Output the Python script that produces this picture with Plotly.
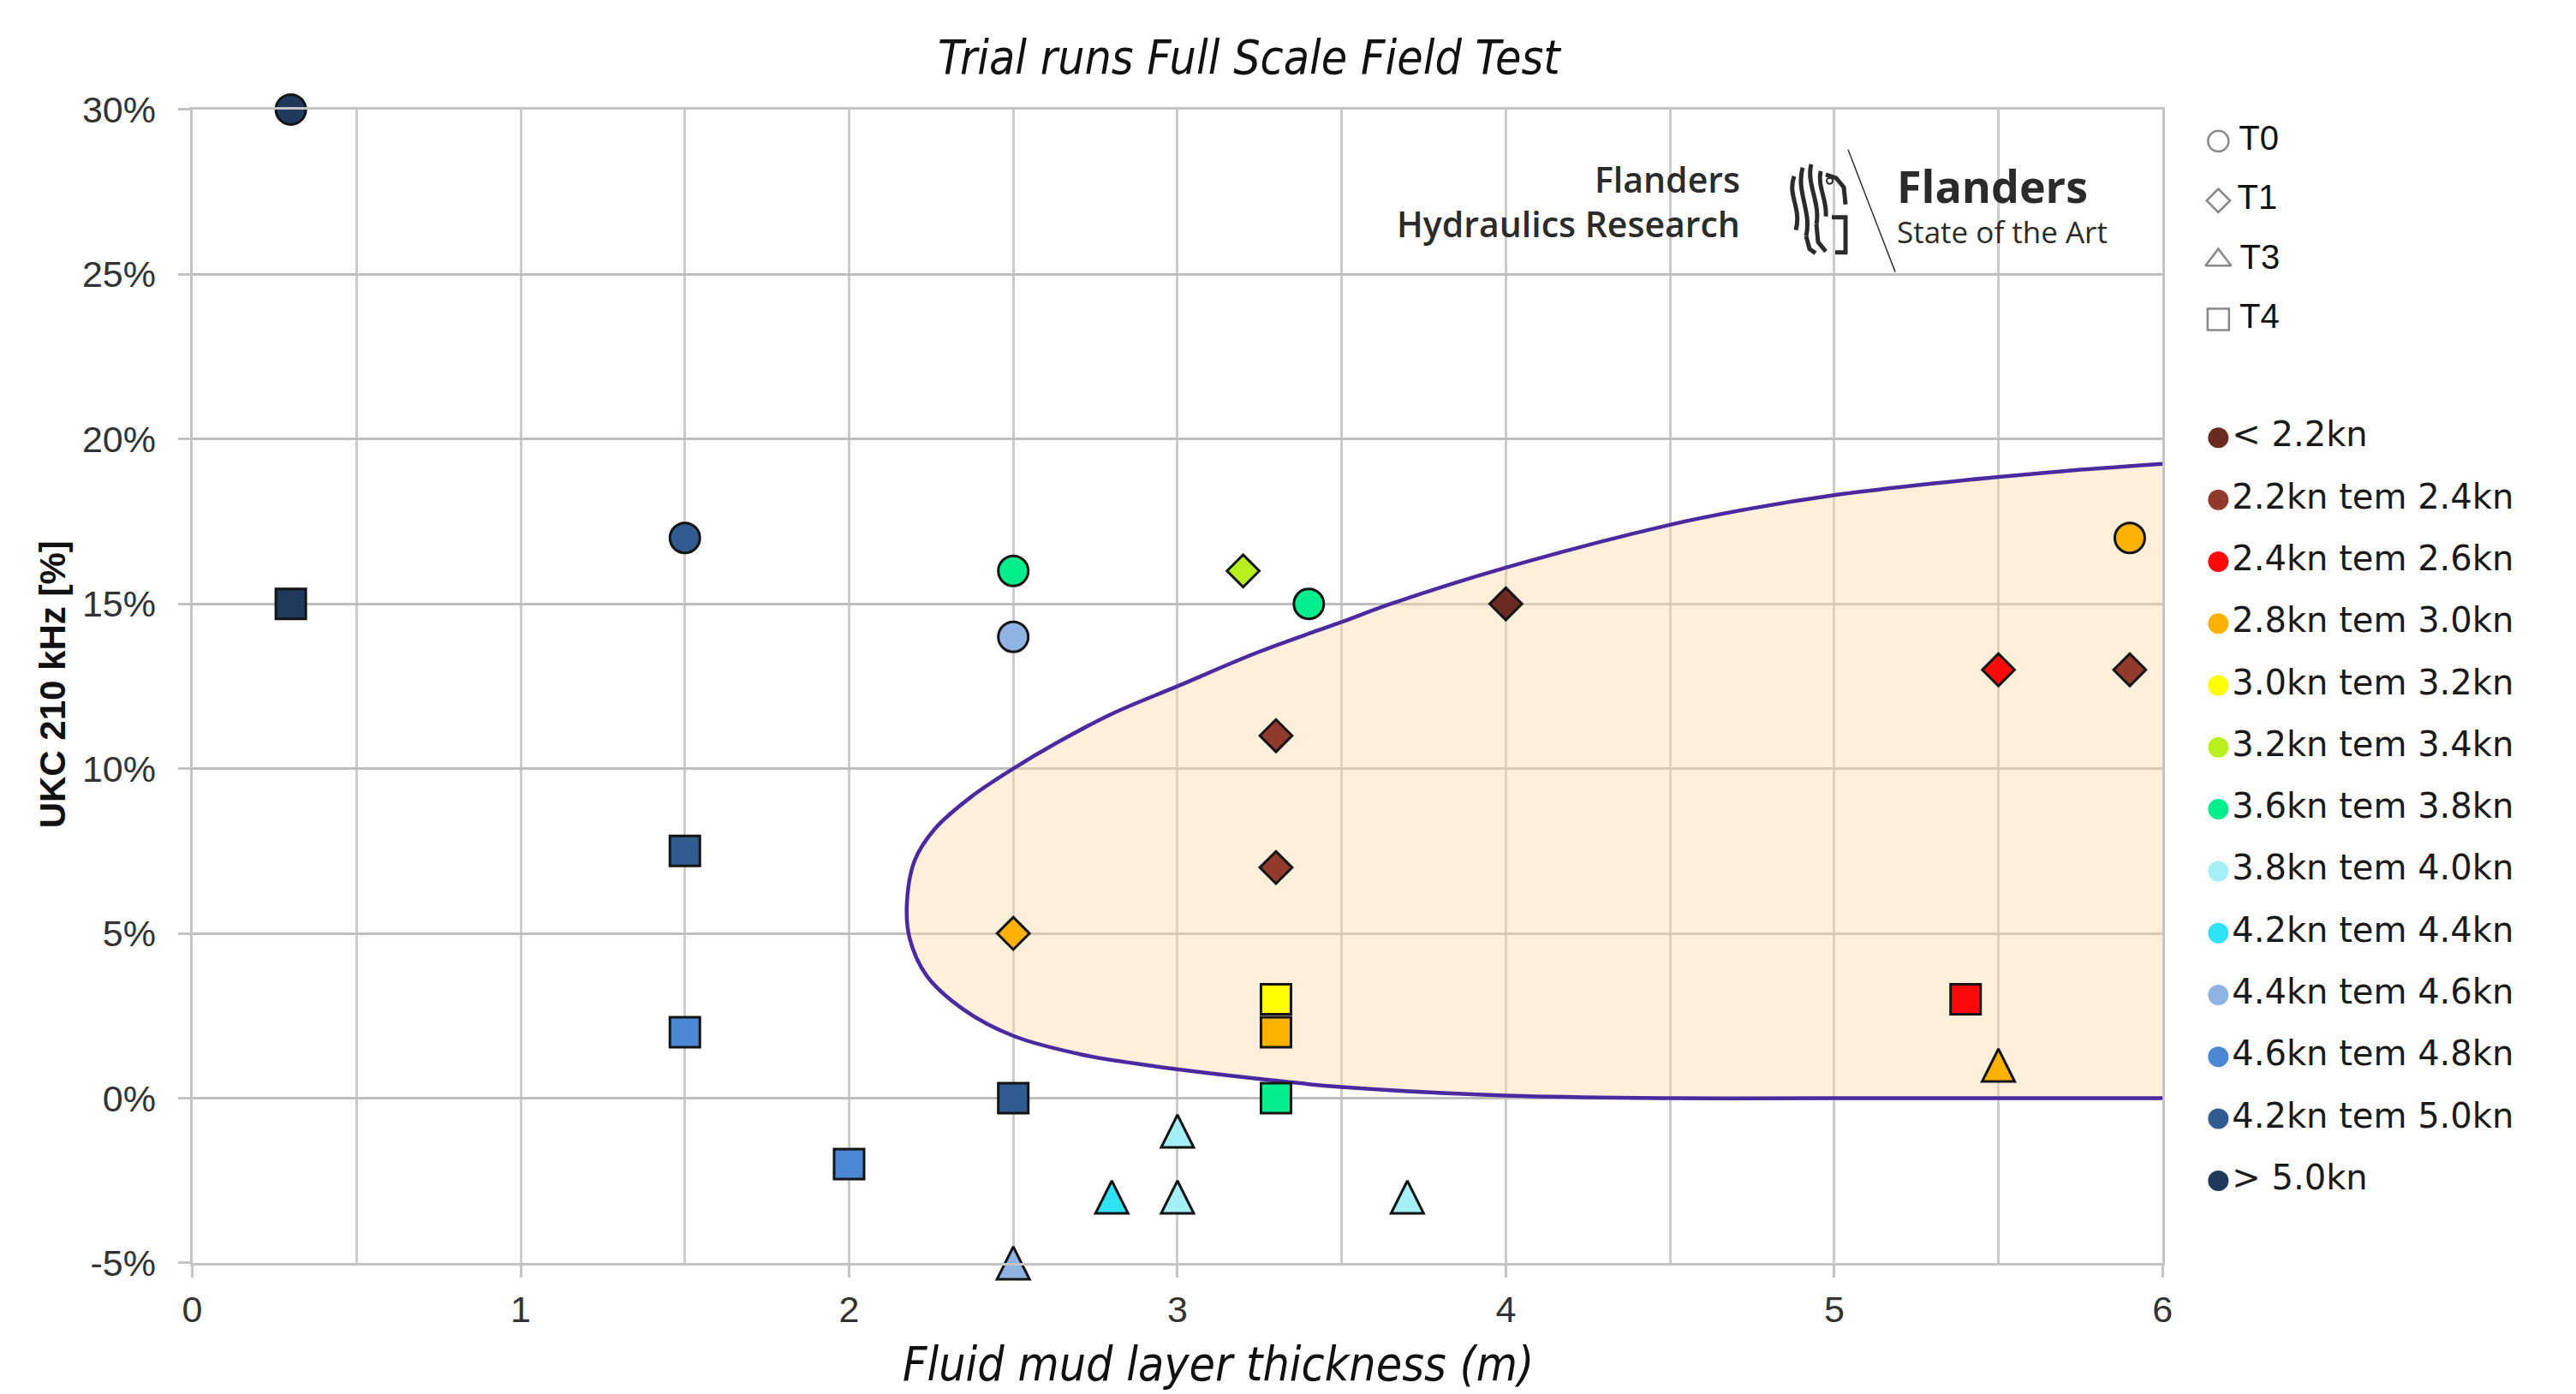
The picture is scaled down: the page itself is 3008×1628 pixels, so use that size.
import plotly.graph_objects as go

W, H = 3008, 1628

# ---------------- data ----------------
thickness = [0.3, 1.5, 2.5, 2.5, 3.4, 5.9,
             3.2, 4.0, 3.3, 3.3, 2.5, 5.5, 5.9,
             3.0, 2.8, 3.0, 3.7, 2.5, 5.5,
             0.3, 1.5, 1.5, 2.0, 2.5, 3.3, 3.3, 3.3, 5.4]
ukc = [30, 17, 16, 14, 15, 17,
       16, 15, 11, 7, 5, 13, 13,
       -1, -3, -3, -3, -5, 1,
       15, 7.5, 2, -2, 0, 3, 2, 0, 3]
test = ["T0", "T0", "T0", "T0", "T0", "T0",
        "T1", "T1", "T1", "T1", "T1", "T1", "T1",
        "T3", "T3", "T3", "T3", "T3", "T3",
        "T4", "T4", "T4", "T4", "T4", "T4", "T4", "T4", "T4"]
speed_class = [12, 11, 6, 9, 6, 3,
               5, 0, 1, 1, 3, 2, 1,
               7, 8, 7, 7, 9, 3,
               12, 11, 10, 10, 11, 4, 3, 6, 2]

test_labels = ["T0", "T1", "T3", "T4"]
speed_labels = ["< 2.2kn", "2.2kn tem 2.4kn", "2.4kn tem 2.6kn", "2.8kn tem 3.0kn",
                "3.0kn tem 3.2kn", "3.2kn tem 3.4kn", "3.6kn tem 3.8kn", "3.8kn tem 4.0kn",
                "4.2kn tem 4.4kn", "4.4kn tem 4.6kn", "4.6kn tem 4.8kn", "4.2kn tem 5.0kn",
                "> 5.0kn"]
speed_colors = ["#6B2A22", "#923A2C", "#FF0A0A", "#FFB300", "#FFFF00", "#B8F01E",
                "#00EE8C", "#A5F0F7", "#30E2F5", "#8FB4E3", "#4A88D6", "#315C91", "#1F3A5C"]

# envelope of the favourable zone
envelope_x = [6.0, 5.75, 5.5, 5.25, 5.0, 4.75, 4.5, 4.0, 3.65, 3.5, 3.25, 3.0, 2.8, 2.63, 2.5, 2.37, 2.26,
              2.2, 2.176, 2.184, 2.236, 2.35, 2.5, 2.71, 2.93, 3.33, 3.5, 4.0, 4.5, 5.0, 6.0]
envelope_y = [19.25, 19.07, 18.85, 18.6, 18.3, 17.9, 17.4, 16.1, 15.0, 14.45, 13.55, 12.5, 11.66, 10.77, 10.0, 9.13, 8.16,
              7.22, 5.91, 4.87, 3.72, 2.68, 1.89, 1.32, 0.97, 0.5, 0.34, 0.08, 0.0, 0.0, 0.0]

x_ticks = [0, 1, 2, 3, 4, 5, 6]
y_ticks = [-5, 0, 5, 10, 15, 20, 25, 30]
y_tick_labels = ["-5%", "0%", "5%", "10%", "15%", "20%", "25%", "30%"]


# ---------------- layout calibration (reference pixel -> figure pixel) ----------------
def px(v):
    return v * 1.0088 - 18.75


def py(v):
    return v * 1.0289 - 29.8


# ---------------- styles ----------------
sym_style = {
    "T0": dict(symbol="circle", size=35, angle=0, standoff=0),
    "T1": dict(symbol="diamond", size=29, angle=0, standoff=0),
    "T3": dict(symbol="arrow-down", size=38, angle=180, standoff=19),
    "T4": dict(symbol="square", size=35, angle=0, standoff=0),
}
legend_sym = {"T0": "circle-open", "T1": "diamond-open", "T3": "triangle-up-open", "T4": "square-open"}
legend_sym_size = {"T0": 24, "T1": 21, "T3": 26, "T4": 25}

fig = go.Figure()

# envelope fill + outline
fig.add_trace(go.Scatter(x=envelope_x, y=envelope_y, mode="lines", fill="toself",
                         fillcolor="rgba(250,218,165,0.42)", line=dict(width=0, shape="spline", smoothing=1.0),
                         hoverinfo="skip", showlegend=False))
fig.add_trace(go.Scatter(x=envelope_x, y=envelope_y, mode="lines",
                         line=dict(color="#4B2AA0", width=4.5, shape="spline", smoothing=1.0),
                         hoverinfo="skip", showlegend=False))

# data points, one trace per test type
for t in test_labels:
    idx = [i for i, v in enumerate(test) if v == t]
    st = sym_style[t]
    fig.add_trace(go.Scatter(
        x=[thickness[i] for i in idx], y=[ukc[i] for i in idx], mode="markers",
        marker=dict(symbol=st["symbol"], size=st["size"], angle=st["angle"], standoff=st["standoff"],
                    color=[speed_colors[speed_class[i]] for i in idx],
                    line=dict(color="#141414", width=3)),
        cliponaxis=False, showlegend=False, name=t))

# ---------------- custom legends on a full-figure pixel overlay ----------------
lx = px(2587)
shape_y0, shape_dy = py(162), 69.5 * 1.0289
color_y0, color_dy = py(509), 72.4 * 1.0289
fig.add_trace(go.Scatter(
    x=[lx] * len(test_labels), y=[shape_y0 + shape_dy * i for i in range(len(test_labels))],
    mode="markers+text", text=["\u2009" + t for t in test_labels], textposition="middle right",
    textfont=dict(family="Liberation Sans, Arial, sans-serif", size=40, color="#111111"),
    marker=dict(symbol=[legend_sym[t] for t in test_labels], size=[legend_sym_size[t] for t in test_labels],
                color="#555555", line=dict(width=2.5, color="#555555")),
    xaxis="x2", yaxis="y2", showlegend=False, hoverinfo="skip", cliponaxis=False))
fig.add_trace(go.Scatter(
    x=[lx] * len(speed_labels), y=[color_y0 + color_dy * i for i in range(len(speed_labels))],
    mode="markers+text", text=speed_labels, textposition="middle right",
    textfont=dict(family="DejaVu Sans, Verdana, sans-serif", size=40, color="#1A1A1A"),
    marker=dict(symbol="circle", size=24, color=speed_colors, line=dict(width=0)),
    xaxis="x2", yaxis="y2", showlegend=False, hoverinfo="skip", cliponaxis=False))

grid_font = dict(family="Liberation Sans, Arial, sans-serif", size=43, color="#333333")
fig.update_layout(
    width=W, height=H,
    margin=dict(l=0, r=0, t=0, b=0),
    paper_bgcolor="white", plot_bgcolor="rgba(0,0,0,0)",
    showlegend=False,
    xaxis=dict(domain=[px(223) / W, px(2522) / W], range=[0, 6], tickvals=x_ticks,
               showgrid=True, gridcolor="#CBCBCB", gridwidth=2.5,
               minor=dict(dtick=0.5, showgrid=True, gridcolor="#CBCBCB", gridwidth=2.5),
               zeroline=False, showline=True, mirror=True, linecolor="#C4C4C4", linewidth=3,
               ticks="outside", ticklen=14, tickwidth=2.5, tickcolor="#C4C4C4",
               ticklabelstandoff=0, tickfont=grid_font),
    yaxis=dict(domain=[1 - py(1474) / H, 1 - py(125) / H], range=[-5, 30],
               tickvals=y_ticks, ticktext=y_tick_labels,
               showgrid=True, gridcolor="#BEBEBE", gridwidth=3,
               zeroline=False, showline=True, mirror=True, linecolor="#C4C4C4", linewidth=3,
               ticks="outside", ticklen=14, tickwidth=2.5, tickcolor="#C4C4C4",
               ticklabelstandoff=17, tickfont=grid_font),
    xaxis2=dict(domain=[0, 1], range=[0, W], visible=False, anchor="y2", fixedrange=True),
    yaxis2=dict(domain=[0, 1], range=[H, 0], visible=False, anchor="x2", fixedrange=True),
)

title_font = dict(family="Liberation Sans Narrow, Arial Narrow, DejaVu Sans Condensed, sans-serif",
                  size=55, color="#111111", style="italic")
anns = [
    dict(text="Trial runs Full Scale Field Test", x=px(1457), y=py(64), font=title_font),
    dict(text="Fluid mud layer thickness (m)", x=px(1420), y=py(1592), font=title_font),
    dict(text="<b>UKC 210 kHz [%]</b>", x=px(60), y=py(797), textangle=-90,
         font=dict(family="Liberation Sans, Arial, sans-serif", size=42, color="#111111")),
    dict(text="<span style='font-size:41px'>Flanders</span><br><span style='font-size:41px'>Hydraulics Research</span>",
         x=px(2031), y=209, xanchor="right", align="right",
         font=dict(family="Open Sans, sans-serif", size=40, color="#2B2B2B", weight=600)),
    dict(text="<span style='font-size:52px'><b>Flanders</b></span><br><span style='font-size:35px'>State of the Art</span>",
         x=px(2210), y=212, xanchor="left", align="left",
         font=dict(family="Open Sans, sans-serif", size=36, color="#2B2B2B")),
]
for a in anns:
    a.setdefault("xanchor", "center")
    fig.add_annotation(xref="x2", yref="y2", showarrow=False, yanchor="middle", **a)

# logo decorations (lion sketch + divider), defined in reference pixels
lion_strokes = [
    [(2092, 203), (2084, 226), (2101, 240), (2094, 266)],
    [(2102, 193), (2094, 221), (2113, 245), (2106, 273)],
    [(2112, 189), (2106, 211), (2123, 235), (2118, 259)],
    [(2123, 197), (2119, 215), (2131, 232), (2129, 250)],
]
for pts in lion_strokes:
    (x0, y0), (x1, y1), (x2, y2), (x3, y3) = [(px(a), py(b)) for a, b in pts]
    fig.add_shape(type="path", path=f"M {x0},{y0} C {x1},{y1} {x2},{y2} {x3},{y3}",
                  xref="x2", yref="y2", line=dict(color="#2B2B2B", width=5), layer="above")
lion_lines = [
    [(2106, 273), (2110, 288), (2117, 293)],
    [(2118, 259), (2120, 280), (2129, 291)],
    [(2129, 201), (2141, 205), (2150, 216), (2152, 236)],
    [(2136, 251), (2152, 251), (2152, 292), (2140, 292)],
]
for pts in lion_lines:
    path = "M " + " L ".join(f"{px(a)},{py(b)}" for a, b in pts)
    fig.add_shape(type="path", path=path, xref="x2", yref="y2",
                  line=dict(color="#2B2B2B", width=5), layer="above")
fig.add_shape(type="circle", x0=px(2130), x1=px(2137), y0=py(205), y1=py(212), xref="x2", yref="y2",
              line=dict(color="#2B2B2B", width=2), layer="above")
fig.add_shape(type="line", x0=px(2155), y0=py(172), x1=px(2210), y1=py(315), xref="x2", yref="y2",
              line=dict(color="#333333", width=1.5), layer="above")

fig.write_html("out.html")
